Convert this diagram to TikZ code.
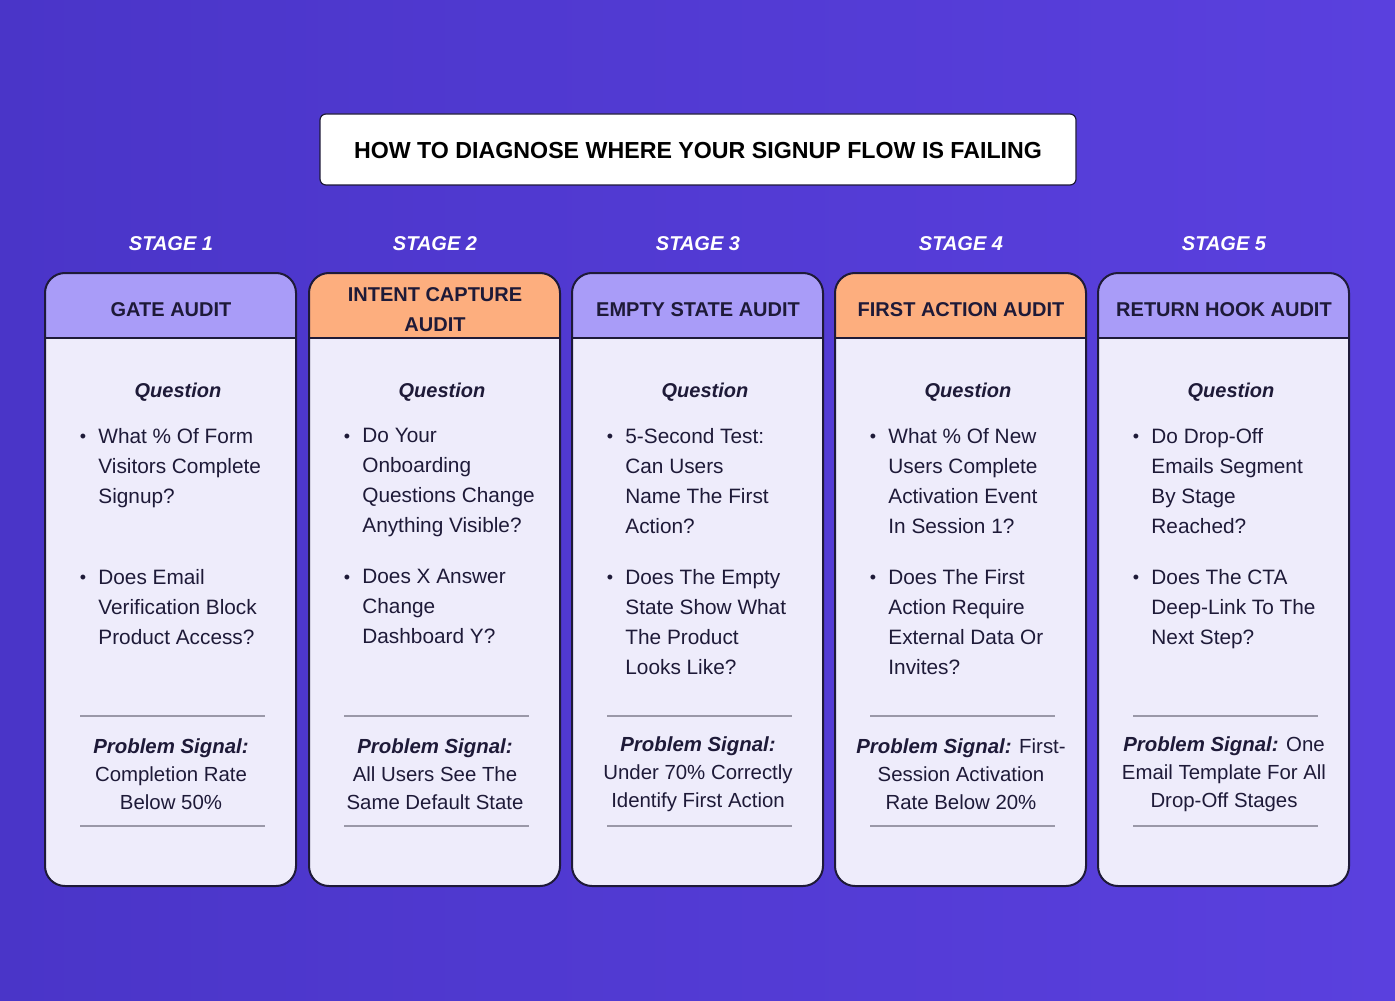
\documentclass[tikz,border=0pt]{standalone}
\usepackage{fontspec}
\setmainfont{Liberation Sans}
\usetikzlibrary{positioning}
\definecolor{bgleft}{HTML}{4A35C8}
\definecolor{bgright}{HTML}{5A40DE}
\definecolor{hdrpurple}{HTML}{A99CF8}
\definecolor{hdrorange}{HTML}{FDAE7E}
\definecolor{cardbody}{HTML}{EEECFB}
\definecolor{inkdark}{HTML}{1E1A38}
\definecolor{rulegray}{HTML}{9A98A8}
\tikzset{
	stagelabel/.style={text=white, font=\fontsize{10}{12}\selectfont\bfseries\itshape},
	headtext/.style={text=inkdark, font=\fontsize{10}{15}\selectfont\bfseries, align=center},
	qhead/.style={text=inkdark, font=\fontsize{10}{12}\selectfont\bfseries\itshape},
	bodytext/.style={text=inkdark, font=\fontsize{10.4}{15}\selectfont, align=left, anchor=north west, inner sep=0pt},
	signaltext/.style={text=inkdark, font=\fontsize{10.2}{14}\selectfont, align=center},
	dividerline/.style={rulegray, line width=1pt}
}
\newcommand{\stagecard}[8]{%
	\begin{scope}
		\clip[rounded corners=10] (#1, 273) rectangle ++(251, 613);
		\fill[cardbody] (#1, 273) rectangle ++(251, 613);
		\fill[#3] (#1, 273) rectangle ++(251, 65);
	\end{scope}
	\draw[inkdark, line width=1pt] (#1, 338) -- ++(251, 0);
	\draw[inkdark, line width=1pt, rounded corners=10] (#1, 273) rectangle ++(251, 613);
	\node[stagelabel] (#8-stage) at (#1+126, 244) {STAGE #2};
	\node[headtext] (#8-head) at (#1+126, 310) {#4};
	\node[qhead] (#8-q) at (#1+133, 392) {Question};
	\node[bodytext] (#8-b1) at (#1+53, 428) {#5};
	\node[text=inkdark, font=\small] at (#1+38, 438) {•};
	\node[bodytext] (#8-b2) at (#1+53, 569) {#6};
	\node[text=inkdark, font=\small] at (#1+38, 579) {•};
	\coordinate (#8-ta) at (#1+35, 716);
	\coordinate (#8-tb) at (#1+220, 716);
	\coordinate (#8-ba) at (#1+35, 826);
	\coordinate (#8-bb) at (#1+220, 826);
	\draw[dividerline] (#8-ta) -- (#8-tb);
	\draw[dividerline] (#8-ba) -- (#8-bb);
	\node[signaltext] (#8-sig) at (#1+126, 774) {#7};
}
\begin{document}
\begin{tikzpicture}[x=0.5pt, y=-0.5pt]
	\shade[left color=bgleft, right color=bgright] (0, 0) rectangle (1395, 1000);
	\useasboundingbox (0, 0) rectangle (1395, 1000);
	% title
	\draw[inkdark, fill=white, line width=0.6pt, rounded corners=3] (320, 114) rectangle (1076, 185);
	\node[text=black, font=\fontsize{11.6}{14}\selectfont\bfseries] (title) at (698, 151) {HOW TO DIAGNOSE WHERE YOUR SIGNUP FLOW IS FAILING};
	% cards
	\stagecard{45}{1}{hdrpurple}{GATE AUDIT}
		{What \% Of Form\\Visitors Complete\\Signup?}
		{Does Email\\Verification Block\\Product Access?}
		{\textbf{\itshape Problem Signal:}\\Completion Rate\\Below 50\%}{gate}
	\stagecard{309}{2}{hdrorange}{INTENT CAPTURE\\AUDIT}
		{Do Your\\Onboarding\\Questions Change\\Anything Visible?}
		{Does X Answer\\Change\\Dashboard Y?}
		{\textbf{\itshape Problem Signal:}\\All Users See The\\Same Default State}{intent}
	\stagecard{572}{3}{hdrpurple}{EMPTY STATE AUDIT}
		{5-Second Test:\\Can Users\\Name The First\\Action?}
		{Does The Empty\\State Show What\\The Product\\Looks Like?}
		{\textbf{\itshape Problem Signal:}\\Under 70\% Correctly\\Identify First Action}{empty}
	\stagecard{835}{4}{hdrorange}{FIRST ACTION AUDIT}
		{What \% Of New\\Users Complete\\Activation Event\\In Session 1?}
		{Does The First\\Action Require\\External Data Or\\Invites?}
		{\textbf{\itshape Problem Signal:} First-\\Session Activation\\Rate Below 20\%}{first}
	\stagecard{1098}{5}{hdrpurple}{RETURN HOOK AUDIT}
		{Do Drop-Off\\Emails Segment\\By Stage\\Reached?}
		{Does The CTA\\Deep-Link To The\\Next Step?}
		{\textbf{\itshape Problem Signal:} One\\Email Template For All\\Drop-Off Stages}{return}
\end{tikzpicture}
\end{document}
